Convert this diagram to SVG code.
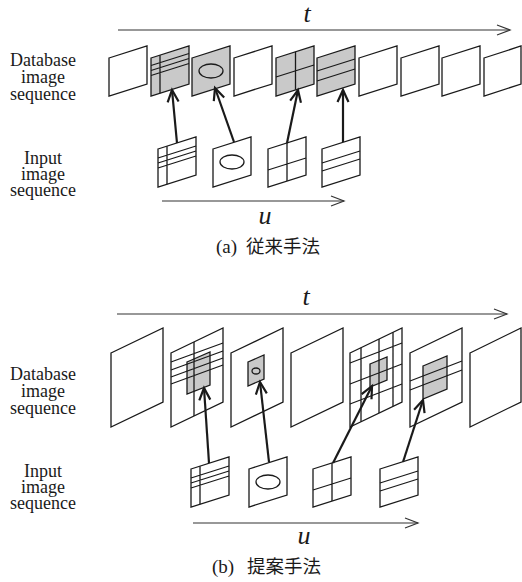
<svg xmlns="http://www.w3.org/2000/svg" width="522" height="582" viewBox="0 0 522 582">
<style>
.fr{fill:#fff;stroke:#1a1a1a;stroke-width:1.3;stroke-linejoin:miter}
.gr{fill:#c9c9c9;stroke:#1a1a1a;stroke-width:1.3}
.ln{fill:none;stroke:#1a1a1a;stroke-width:1.3}
.ax{fill:none;stroke:#333;stroke-width:1.2}
.ar{fill:none;stroke:#1a1a1a;stroke-width:2.2}
.lab{font-family:"Liberation Serif","Times New Roman",serif;font-size:18px;fill:#1a1a1a;text-anchor:middle}
.var{font-family:"Liberation Serif","Times New Roman",serif;font-size:26px;font-style:italic;fill:#1a1a1a;text-anchor:middle}
.cap{font-family:"Liberation Serif","Times New Roman",serif;font-size:19px;fill:#1a1a1a}
.cj{font-family:"Noto Sans CJK JP","Noto Sans CJK SC",sans-serif;font-size:18.5px}
</style>
<defs>
<marker id="ah" markerWidth="16" markerHeight="14" refX="13" refY="7" orient="auto" markerUnits="userSpaceOnUse">
<path d="M1,1.5 L13,7 L1,12.5" fill="none" stroke="#1a1a1a" stroke-width="2.2"/>
</marker>
<marker id="ax" markerWidth="16" markerHeight="12" refX="14" refY="6" orient="auto" markerUnits="userSpaceOnUse">
<path d="M1,1 L14,6 L1,11" fill="none" stroke="#333" stroke-width="1.2"/>
</marker>
</defs>

<!-- Panel (a) labels -->
<g id="labels-a">
<text class="lab" x="43" y="66">Database</text>
<text class="lab" x="43" y="83">image</text>
<text class="lab" x="43" y="100">sequence</text>
<text class="lab" x="43" y="164">Input</text>
<text class="lab" x="43" y="180">image</text>
<text class="lab" x="43" y="196">sequence</text>
</g>

<g id="axis-t-a">
<line class="ax" x1="118" y1="30" x2="510" y2="30" marker-end="url(#ax)"/>
<text class="var" x="307" y="22">t</text>
</g>

<!-- Panel (a) database frames -->
<g id="db-a0"><path class="fr" d="M109,58 L147,46 L147,84 L109,96 Z"/></g>
<g id="db-a1"><path class="gr" d="M151,58 L189,46 L189,84 L151,96 Z"/>
<path class="ln" d="M160,55.2 V93.2 M151,65.5 L189,53.5 M151,70.5 L189,58.5 M151,75.5 L189,63.5"/></g>
<g id="db-a2"><path class="gr" d="M192,58 L230,46 L230,84 L192,96 Z"/>
<ellipse class="ln" cx="211" cy="71" rx="12" ry="7"/></g>
<g id="db-a3"><path class="fr" d="M234,58 L272,46 L272,84 L234,96 Z"/></g>
<g id="db-a4"><path class="gr" d="M276,58 L314,46 L314,84 L276,96 Z"/>
<path class="ln" d="M295.5,51.8 V89.8 M276,77 L314,65"/></g>
<g id="db-a5"><path class="gr" d="M317,58 L355,46 L355,84 L317,96 Z"/>
<path class="ln" d="M317,71 L355,59 M317,81 L355,69"/></g>
<g id="db-a6"><path class="fr" d="M359,58 L397,46 L397,84 L359,96 Z"/></g>
<g id="db-a7"><path class="fr" d="M401,58 L439,46 L439,84 L401,96 Z"/></g>
<g id="db-a8"><path class="fr" d="M442,58 L480,46 L480,84 L442,96 Z"/></g>
<g id="db-a9"><path class="fr" d="M484,58 L521,46 L521,84 L484,96 Z"/></g>

<!-- Panel (a) input frames -->
<g id="in-a1"><path class="fr" d="M158,149 L196,137 L196,175 L158,187 Z"/>
<path class="ln" d="M167,146.2 V184.2 M158,158 L196,146 M158,163 L196,151 M158,168 L196,156"/></g>
<g id="in-a2"><path class="fr" d="M213,149 L251,137 L251,175 L213,187 Z"/>
<ellipse class="ln" cx="232" cy="162" rx="12" ry="7"/></g>
<g id="in-a3"><path class="fr" d="M268,149 L306,137 L306,175 L268,187 Z"/>
<path class="ln" d="M287,143 V181 M268,170 L306,158"/></g>
<g id="in-a4"><path class="fr" d="M322,149 L360,137 L360,175 L322,187 Z"/>
<path class="ln" d="M322,163 L360,151 M322,171 L360,159"/></g>

<g id="axis-u-a">
<line class="ax" x1="162" y1="201" x2="344" y2="201" marker-end="url(#ax)"/>
<text class="var" x="265" y="224">u</text>
</g>

<g id="caption-a"><text class="cap" x="216" y="253">(a)<tspan class="cj" x="246">従来手法</tspan></text></g>

<!-- Panel (b) labels -->
<g id="labels-b">
<text class="lab" x="43" y="380">Database</text>
<text class="lab" x="43" y="397">image</text>
<text class="lab" x="43" y="414">sequence</text>
<text class="lab" x="43" y="477">Input</text>
<text class="lab" x="43" y="493">image</text>
<text class="lab" x="43" y="509">sequence</text>
</g>

<g id="axis-t-b">
<line class="ax" x1="117" y1="314" x2="507" y2="314" marker-end="url(#ax)"/>
<text class="var" x="306" y="305">t</text>
</g>

<!-- Panel (b) database frames -->
<g id="db-b0"><path class="fr" d="M111,353 L163,328 L163,402 L111,427 Z"/></g>
<g id="db-b1"><path class="fr" d="M171,353 L223,328 L223,402 L171,427 Z"/>
<path class="gr" d="M187,362 L210,352 L210,385 L187,394 Z"/>
<path class="ln" d="M194,341.9 V415.9 M171,362 L223,343 M171,370 L223,351 M171,377 L223,358 M171,384 L223,365"/></g>
<g id="db-b2"><path class="fr" d="M231,353 L283,328 L283,402 L231,427 Z"/>
<path class="gr" d="M248,362 L264,355 L264,379 L248,386 Z"/>
<ellipse class="ln" cx="256" cy="371" rx="4" ry="3"/></g>
<g id="db-b3"><path class="fr" d="M291,353 L343,328 L343,402 L291,427 Z"/></g>
<g id="db-b4"><path class="fr" d="M350,353 L402,328 L402,402 L350,427 Z"/>
<path class="gr" d="M370,364 L387,357 L387,380 L370,387 Z"/>
<path class="ln" d="M361,347.7 V421.7 M379,339.1 V413.1 M393,332.3 V406.3 M350,363 L402,343 M350,384 L402,364 M350,404 L402,384"/></g>
<g id="db-b5"><path class="fr" d="M410,353 L462,328 L462,402 L410,427 Z"/>
<path class="gr" d="M423,366 L447,356 L447,389 L423,399 Z"/>
<path class="ln" d="M410,381 L462,361 M410,390 L462,370"/></g>
<g id="db-b6"><path class="fr" d="M470,353 L521,328 L521,402 L470,427 Z"/></g>

<!-- Panel (b) input frames -->
<g id="in-b1"><path class="fr" d="M191,469 L229,457 L229,495 L191,507 Z"/>
<path class="ln" d="M200,466.2 V504.2 M191,478 L229,466 M191,483 L229,471 M191,488 L229,476"/></g>
<g id="in-b2"><path class="fr" d="M249,469 L287,457 L287,495 L249,507 Z"/>
<ellipse class="ln" cx="268" cy="482" rx="12" ry="7"/></g>
<g id="in-b3"><path class="fr" d="M313,469 L351,457 L351,495 L313,507 Z"/>
<path class="ln" d="M332,463 V501 M313,490 L351,478"/></g>
<g id="in-b4"><path class="fr" d="M380,469 L418,457 L418,495 L380,507 Z"/>
<path class="ln" d="M380,483 L418,471 M380,491 L418,479"/></g>

<g id="axis-u-b">
<line class="ax" x1="193" y1="523" x2="418" y2="523" marker-end="url(#ax)"/>
<text class="var" x="304" y="544">u</text>
</g>

<g id="caption-b"><text class="cap" x="212" y="573">(b)<tspan class="cj" x="247">提案手法</tspan></text></g>

<!-- Connectors -->
<g id="connectors">
<line class="ar" x1="177" y1="143" x2="172" y2="90" marker-end="url(#ah)"/>
<line class="ar" x1="234" y1="142" x2="215" y2="88" marker-end="url(#ah)"/>
<line class="ar" x1="287" y1="143" x2="298" y2="90" marker-end="url(#ah)"/>
<line class="ar" x1="343" y1="142" x2="343" y2="90" marker-end="url(#ah)"/>
<line class="ar" x1="209" y1="463" x2="204" y2="388" marker-end="url(#ah)"/>
<line class="ar" x1="269" y1="462" x2="260" y2="382" marker-end="url(#ah)"/>
<line class="ar" x1="333" y1="463" x2="372" y2="386" marker-end="url(#ah)"/>
<line class="ar" x1="403" y1="462" x2="423" y2="400" marker-end="url(#ah)"/>
</g>
</svg>
